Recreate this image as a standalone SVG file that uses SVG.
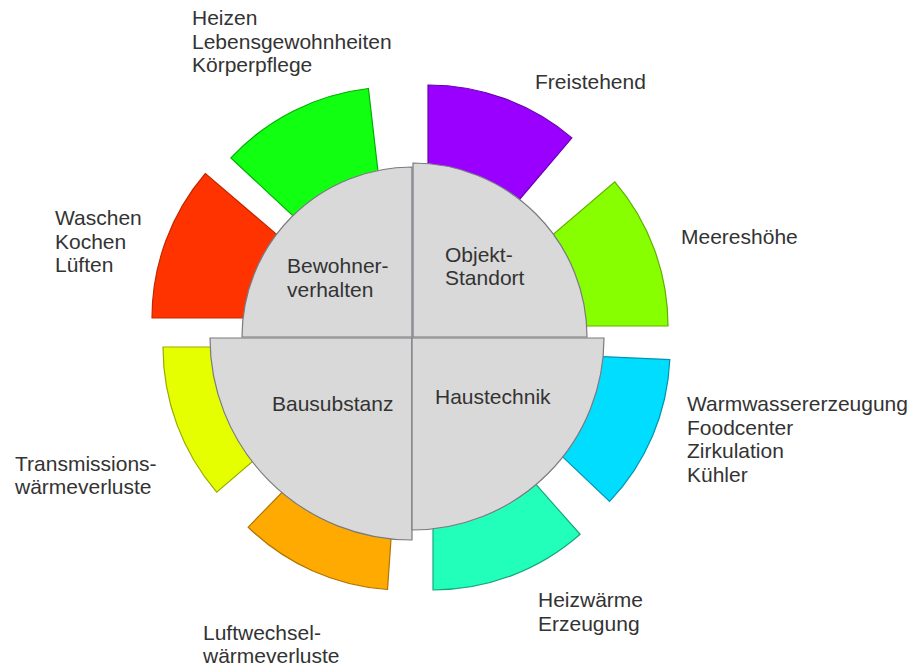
<svg xmlns="http://www.w3.org/2000/svg" width="916" height="668" viewBox="0 0 916 668">
<style>
  text { font-family: "Liberation Sans", Arial, sans-serif; font-size: 21px; fill: #333333; }
  .seg { stroke-width: 1.2; stroke-linejoin: miter; }
  .quad { fill: #d9d9d9; stroke: #7a7a80; stroke-width: 1.2; }
</style>
<rect width="916" height="668" fill="#ffffff"/>

<g id="seg-waschen">
  <path class="seg" fill="#ff3300" stroke="#c42800" d="M152,318 A222,222 0 0 1 205.4,173.5 L282.9,239.9 A120,120 0 0 0 254,318 Z"/>
  <text x="55" y="225">Waschen</text>
  <text x="55" y="248.5">Kochen</text>
  <text x="55" y="272">Lüften</text>
</g>
<g id="seg-heizen">
  <path class="seg" fill="#11ff11" stroke="#00b000" d="M230.9,157.9 A223,223 0 0 1 368.4,88.5 L380.2,190.8 A120,120 0 0 0 306.2,228.2 Z"/>
  <text x="192" y="25">Heizen</text>
  <text x="192" y="48.5">Lebensgewohnheiten</text>
  <text x="192" y="72">Körperpflege</text>
</g>
<g id="seg-freistehend">
  <path class="seg" fill="#9900ff" stroke="#6a00b0" d="M428,85 A222,222 0 0 1 571.9,137.9 L505.8,215.6 A120,120 0 0 0 428,187 Z"/>
  <text x="535" y="89">Freistehend</text>
</g>
<g id="seg-meereshoehe">
  <path class="seg" fill="#88ff00" stroke="#5fb000" d="M614.8,181.8 A222,222 0 0 1 668,326 L566,326 A120,120 0 0 0 537.2,248.1 Z"/>
  <text x="681" y="244">Meereshöhe</text>
</g>
<g id="seg-warmwasser">
  <path class="seg" fill="#00ddff" stroke="#0096b0" d="M669.8,359.6 A220,220 0 0 1 609.6,501.4 L537,432.6 A120,120 0 0 0 569.9,355.2 Z"/>
  <text x="687" y="411">Warmwassererzeugung</text>
  <text x="687" y="434.5">Foodcenter</text>
  <text x="687" y="458">Zirkulation</text>
  <text x="687" y="481.5">Kühler</text>
</g>
<g id="seg-heizwaerme">
  <path class="seg" fill="#22ffbb" stroke="#16a87c" d="M580.1,534.3 A222,222 0 0 1 433,590 L433,488 A120,120 0 0 0 512.5,457.9 Z"/>
  <text x="538" y="607">Heizwärme</text>
  <text x="538" y="630.5">Erzeugung</text>
</g>
<g id="seg-luftwechsel">
  <path class="seg" fill="#ffaa00" stroke="#b07500" d="M387.5,589.5 A222,222 0 0 1 248.2,527.2 L319.3,454 A120,120 0 0 0 394.6,487.7 Z"/>
  <text x="203" y="640">Luftwechsel-</text>
  <text x="203" y="663">wärmeverluste</text>
</g>
<g id="seg-transmission">
  <path class="seg" fill="#e5ff00" stroke="#9aaa00" d="M216.7,492.1 A223,223 0 0 1 163,347 L266,347 A120,120 0 0 0 294.9,425.1 Z"/>
  <text x="15" y="471">Transmissions-</text>
  <text x="15" y="494">wärmeverluste</text>
</g>

<g id="quad-bausubstanz">
  <path class="quad" d="M412,338 L412,540 A202,202 0 0 1 210,338 Z"/>
  <text x="272" y="411">Bausubstanz</text>
</g>
<g id="quad-haustechnik">
  <path class="quad" d="M412,338 L604,338 A192,192 0 0 1 412,530 Z"/>
  <text x="435" y="404">Haustechnik</text>
</g>
<g id="quad-bewohnerverhalten">
  <path class="quad" d="M412,337 L242,337 A170,170 0 0 1 412,167 Z"/>
  <text x="287" y="273">Bewohner-</text>
  <text x="287" y="297">verhalten</text>
</g>
<g id="quad-objekt">
  <path class="quad" d="M413,337 L413,163 A174,174 0 0 1 587,337 Z"/>
  <text x="445" y="262">Objekt-</text>
  <text x="445" y="285">Standort</text>
</g>
<g id="connectors"/>
</svg>
